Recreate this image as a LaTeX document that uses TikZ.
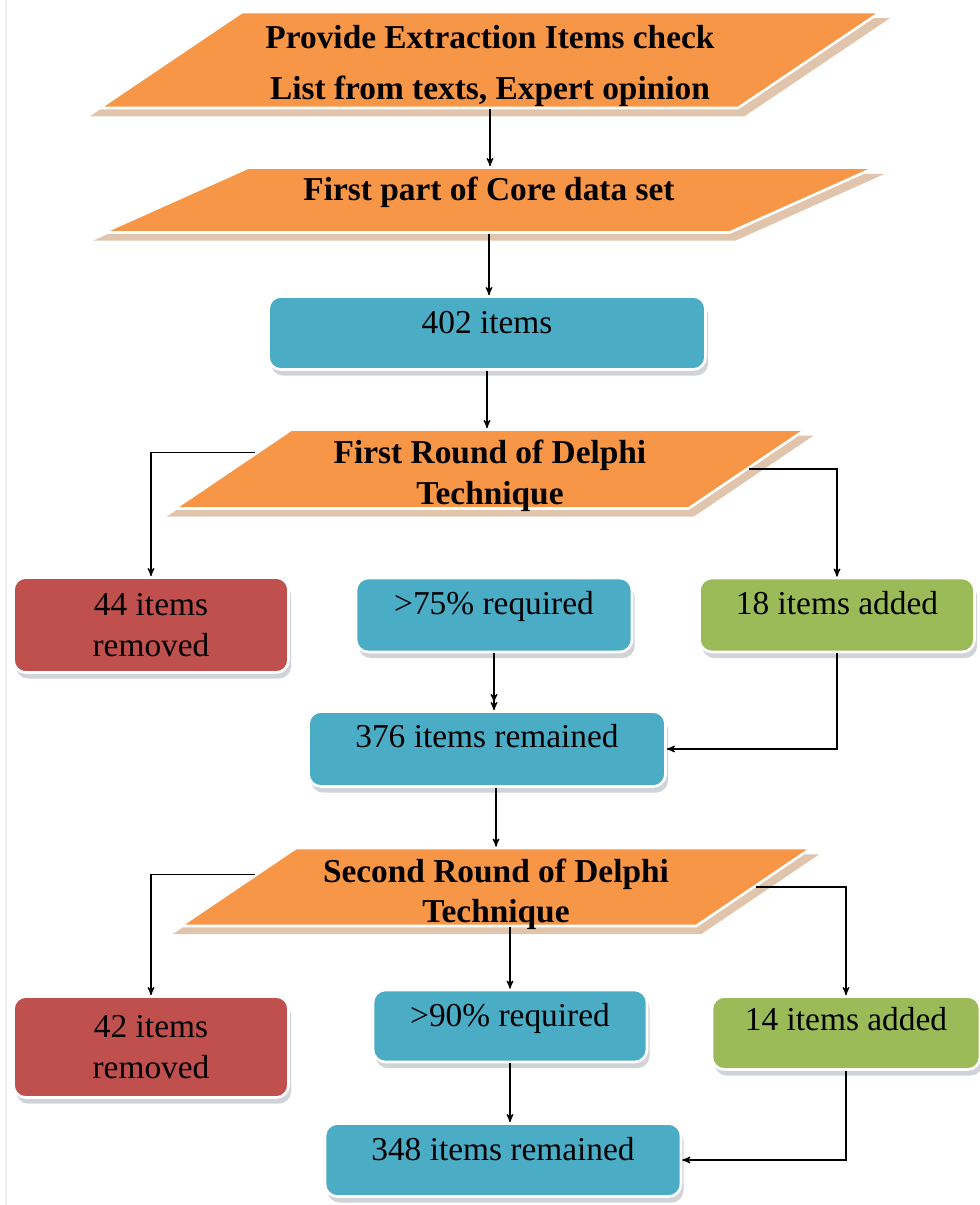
\documentclass[tikz,border=0pt]{standalone}
\usepackage{fontspec}
\setmainfont{Liberation Serif}
\usepackage{tikz}
\usetikzlibrary{arrows,shapes,shadows}
\definecolor{flow_orange}{RGB}{247,150,70}
\definecolor{flow_blue}{RGB}{75,172,198}
\definecolor{flow_red}{RGB}{192,80,77}
\definecolor{flow_green}{RGB}{155,187,89}
\definecolor{shadowtan}{RGB}{224,196,172}
\definecolor{shadowgray}{RGB}{208,211,215}

\begin{document}
\begin{tikzpicture}[->,>=stealth',line width=0.7pt,x=0.02cm,y=-0.02cm]
    \tikzstyle{para}=[trapezium, trapezium stretches body=true, trapezium left angle=34, trapezium right angle=146, draw=white, line width=1.5pt, fill=flow_orange, text=black, font=\fontsize{19}{23}\selectfont\bfseries, align=center, inner xsep=1pt, general shadow={shadow scale=1.025, shadow yshift=-4pt, fill=shadowtan}]
    \tikzstyle{box}=[rectangle, rounded corners=7pt, draw=white, line width=1.5pt, fill=flow_blue, text=black, inner ysep=0pt, font=\fontsize{19}{23}\selectfont, general shadow={shadow xshift=1.5pt, shadow yshift=-3.5pt, fill=shadowgray}]
    \tikzstyle{rbox}=[box, fill=flow_red, align=center]
    \tikzstyle{gbox}=[box, fill=flow_green]

    \useasboundingbox (0,0) rectangle (980,1205);
    \draw[-,gray!12,line width=1pt] (6,0) -- (6,1205);

    \node[para, inner ysep=0.8pt, minimum width=15.62cm, minimum height=1.92cm] (PEI) at (490,60) {\rule{0pt}{20pt}Provide Extraction Items check\\[6pt] List from texts, Expert opinion};
    \node[para, trapezium left angle=24, trapezium right angle=156, text height=13.1pt, text depth=12.1pt, inner ysep=5.8pt, minimum width=15.44cm, minimum height=1.3cm] (FPC) at (489,200) {First part of Core data set};
    \node[box, minimum width=8.74cm, text height=0.74cm, text depth=0.72cm] (I402) at (487,333) {402 items};
    \node[para, inner ysep=-1.6pt, minimum width=12.62cm, minimum height=1.58cm] (FRD) at (490,469) {\rule{0pt}{21pt}First Round of Delphi\\Technique};
    \node[rbox, minimum width=5.5cm, minimum height=1.9cm] (R44) at (151,625) {44 items\\removed};
    \node[box, minimum width=5.52cm, text height=0.72cm, text depth=0.76cm] (Q75) at (494,615) {>75\% required};
    \node[gbox, minimum width=5.5cm, text height=0.72cm, text depth=0.76cm] (A18) at (837,615) {18 items added};
    \node[box, minimum width=7.14cm, text height=0.72cm, text depth=0.78cm] (R376) at (487,749) {376 items remained};
    \node[para, inner ysep=-2.4pt, minimum width=12.62cm, minimum height=1.56cm] (SRD) at (496,887) {\rule{0pt}{22pt}Second Round of Delphi\\Technique};
    \node[rbox, minimum width=5.5cm, minimum height=2.02cm] (R42) at (151,1047) {42 items\\removed};
    \node[box, minimum width=5.48cm, text height=0.72cm, text depth=0.72cm] (Q90) at (510,1026) {>90\% required};
    \node[gbox, minimum width=5.36cm, text height=0.68cm, text depth=0.78cm] (A14) at (846,1033) {14 items added};
    \node[box, minimum width=7.12cm, text height=0.74cm, text depth=0.72cm] (R348) at (503,1160) {348 items remained};

    \draw (PEI.south) -- (PEI.south |- FPC.north);
    \draw (FPC.south) -- (FPC.south |- I402.north);
    \draw (I402.south) -- (I402.south |- FRD.north);
    \draw (FRD.176) -| (R44.north);
    \draw (FRD.east) -| (A18.north);
    \draw[->>] (Q75.south) -- (Q75.south |- R376.north);
    \draw (A18.south) |- (R376.east);
    \draw (SRD.north |- R376.south) -- (SRD.north);
    \draw (SRD.177) -| (R42.north);
    \draw (SRD.east) -| (A14.north);
    \draw (Q90.north |- SRD.south) -- (Q90.north);
    \draw (Q90.south) -- (Q90.south |- R348.north);
    \draw (A14.south) |- (R348.east);
\end{tikzpicture}
\end{document}
